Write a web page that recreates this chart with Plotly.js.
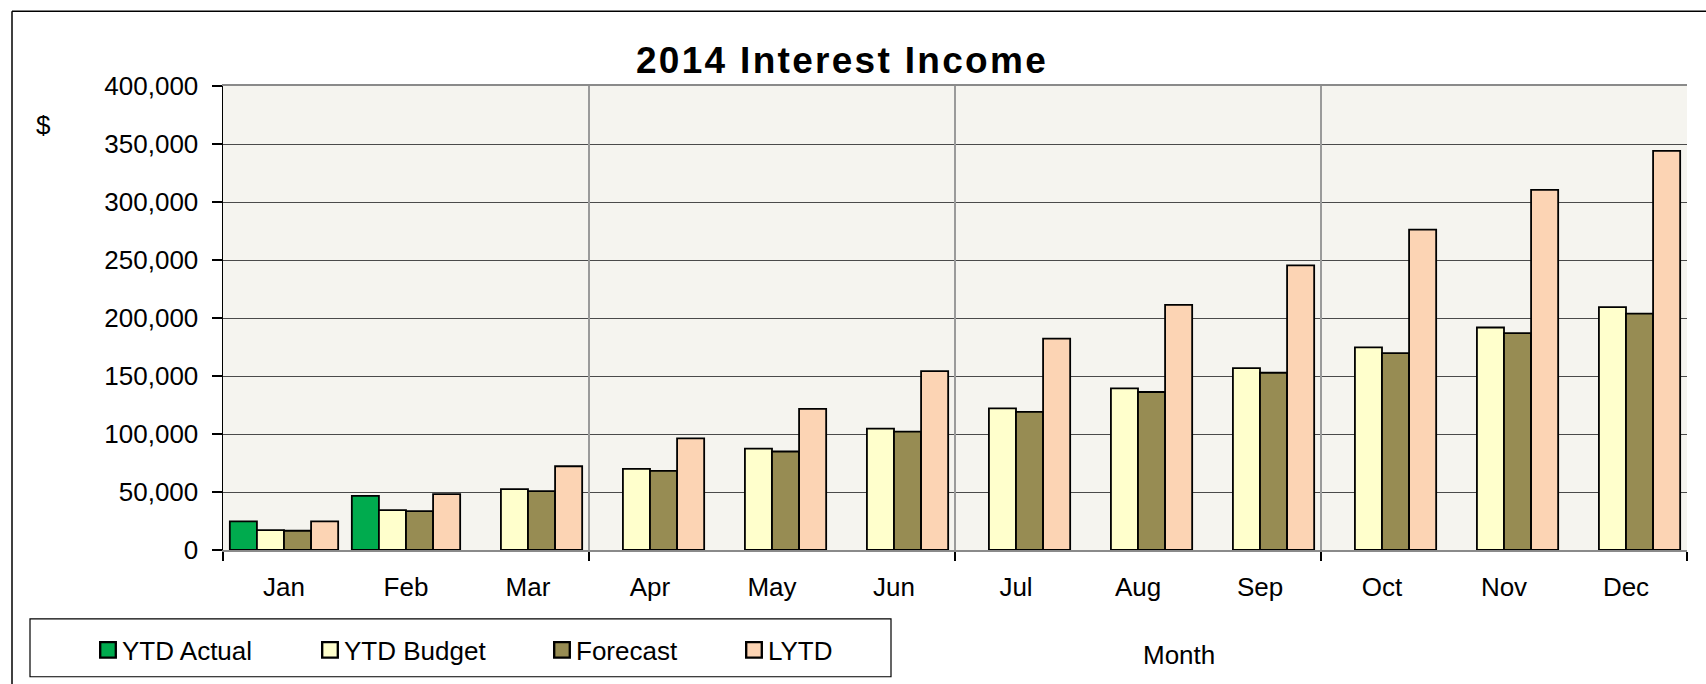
<!DOCTYPE html>
<html>
<head>
<meta charset="utf-8">
<script src="https://cdn.plot.ly/plotly-3.0.1.min.js"></script>
<style>
  html, body { margin: 0; padding: 0; background: #ffffff; }
  #chart { width: 1706px; height: 684px; }
  .gtitle { letter-spacing: 2.3px; }
  .legendpoints path { transform: translate(26px, 0px) scale(1.3); }
</style>
</head>
<body>
<div id="chart"></div>
<script>
// ---- data ----
const months = ["Jan","Feb","Mar","Apr","May","Jun","Jul","Aug","Sep","Oct","Nov","Dec"];
const ytdActual = [24700, 46700, null, null, null, null, null, null, null, null, null, null];
const ytdBudget = [17200, 34400, 52500, 70000, 87400, 104600, 122100, 139300, 156800, 174600, 191800, 209300];
const forecast  = [16600, 33500, 50700, 68200, 84900, 102100, 119000, 136200, 152800, 169700, 186900, 203800];
const lytd      = [24700, 48200, 72200, 96300, 121600, 154200, 182300, 211300, 245400, 276100, 310500, 344000];
const seriesNames = ["YTD Actual", "YTD Budget", "Forecast", "LYTD"];
const yTickVals = [0, 50000, 100000, 150000, 200000, 250000, 300000, 350000, 400000];
const yTickText = ["0", "50,000", "100,000", "150,000", "200,000", "250,000", "300,000", "350,000", "400,000"];
const quarterBounds = [-0.5, 2.5, 5.5, 8.5, 11.5];

// ---- geometry (pixels) ----
const W = 1706, H = 684;
const L = 223, R = 19, T = 86, B = 133;
const pw = W - L - R, ph = H - T - B;
const px = v => (v - L) / pw;          // pixel x -> paper x
const py = v => (H - B - v) / ph;      // pixel y -> paper y

const FONT = "Liberation Sans, Arial, sans-serif";
const FS = 26;
const colors = ["#00AB4E", "#FFFFCC", "#978C53", "#FCD4B4"];
const seriesData = [ytdActual, ytdBudget, forecast, lytd];
const legendIds = ["legend", "legend2", "legend3", "legend4"];

const traces = seriesData.map((vals, i) => ({
  type: "bar",
  name: seriesNames[i],
  x: months,
  y: vals,
  marker: { color: colors[i], line: { color: "#000000", width: 1.8 } },
  legend: legendIds[i],
  hoverinfo: "x+y+name"
}));
// empty helper trace so the quarter-grid axis is drawn
traces.push({ type: "scatter", x: [], y: [], xaxis: "x2", yaxis: "y", showlegend: false, hoverinfo: "skip" });

const legendLefts = [82, 304, 536, 728];
const legendBase = (left) => ({
  orientation: "h",
  x: px(left), xanchor: "left",
  y: py(650), yanchor: "middle",
  bgcolor: "rgba(0,0,0,0)",
  borderwidth: 0,
  font: { family: FONT, size: FS, color: "#000000" }
});

const layout = {
  width: W, height: H,
  margin: { l: L, r: R, t: T, b: B, pad: 0 },
  paper_bgcolor: "#ffffff",
  plot_bgcolor: "#F5F4EF",
  font: { family: FONT, size: FS, color: "#000000" },
  title: {
    text: "<b>2014 Interest Income</b>",
    font: { family: FONT, size: 37, color: "#000000" },
    x: 842 / W, xref: "container", xanchor: "center",
    y: 1 - 60 / H, yref: "container", yanchor: "middle"
  },
  barmode: "group",
  bargap: 0.112,
  bargroupgap: 0,
  xaxis: {
    type: "category",
    range: [-0.5, 11.5],
    showgrid: false,
    showline: false,
    zeroline: false,
    ticks: "",
    ticklabelstandoff: 19,
    tickfont: { family: FONT, size: FS, color: "#000000" }
  },
  xaxis2: {
    overlaying: "x",
    anchor: "y",
    side: "bottom",
    type: "linear",
    range: [-0.5, 11.5],
    tickvals: quarterBounds,
    showticklabels: false,
    showgrid: true,
    gridcolor: "#9a9a9a",
    gridwidth: 2,
    zeroline: false,
    showline: true,
    linecolor: "#8a8a8a",
    linewidth: 2,
    mirror: true,
    ticks: "outside",
    ticklen: 9,
    tickwidth: 1.5,
    tickcolor: "#000000"
  },
  yaxis: {
    range: [0, 400000],
    tickvals: yTickVals,
    ticktext: yTickText,
    showgrid: true,
    gridcolor: "#4a4a4a",
    gridwidth: 1,
    zeroline: false,
    showline: true,
    linecolor: "#000000",
    linewidth: 1.5,
    ticks: "outside",
    ticklen: 10,
    tickwidth: 1.5,
    tickcolor: "#000000",
    ticklabelstandoff: 8,
    tickfont: { family: FONT, size: FS, color: "#000000" }
  },
  legend: legendBase(legendLefts[0]),
  legend2: legendBase(legendLefts[1]),
  legend3: legendBase(legendLefts[2]),
  legend4: legendBase(legendLefts[3]),
  annotations: [
    { text: "$", xref: "paper", yref: "paper", x: px(43), y: py(125),
      xanchor: "center", yanchor: "middle", showarrow: false,
      font: { family: FONT, size: FS, color: "#000000" } },
    { text: "Month", xref: "paper", yref: "paper", x: px(1179), y: py(656),
      xanchor: "center", yanchor: "middle", showarrow: false,
      font: { family: FONT, size: FS, color: "#000000" } }
  ],
  shapes: [
    // outer chart frame (top and left edges visible)
    { type: "line", xref: "paper", yref: "paper", x0: px(12), x1: px(W + 10), y0: py(11), y1: py(11),
      line: { color: "#000000", width: 1.5 } },
    { type: "line", xref: "paper", yref: "paper", x0: px(12), x1: px(12), y0: py(11), y1: py(H + 10),
      line: { color: "#000000", width: 1.5 } },
    // legend frame
    { type: "rect", xref: "paper", yref: "paper", x0: px(30), x1: px(891), y0: py(620), y1: py(678),
      line: { color: "#000000", width: 1.2 }, fillcolor: "rgba(0,0,0,0)", layer: "below" }
  ],
  showlegend: true
};

Plotly.newPlot("chart", traces, layout, { displayModeBar: false, staticPlot: true });
</script>
</body>
</html>
